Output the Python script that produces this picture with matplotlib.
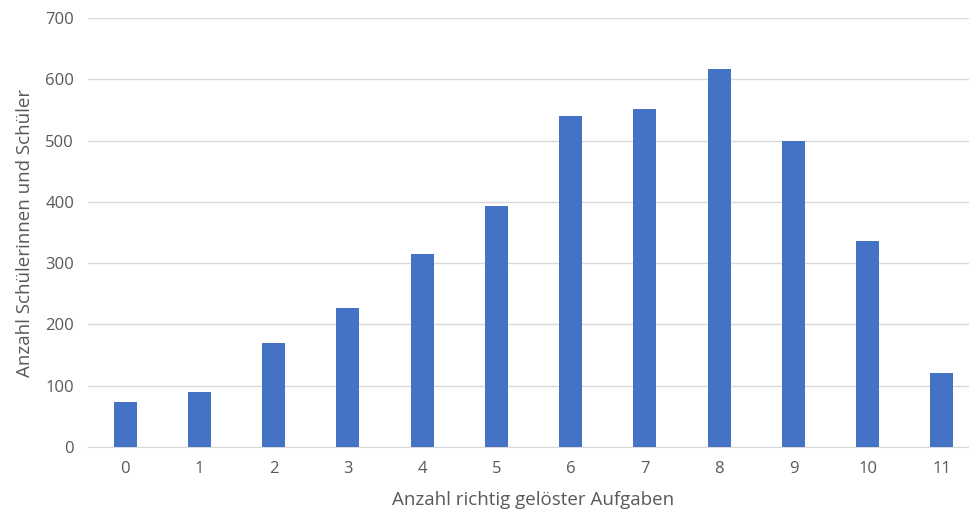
import numpy as np
import matplotlib
matplotlib.use('Agg')
import matplotlib.pyplot as plt

# Anzahl richtig geloester Aufgaben und Anzahl Schueler
aufgaben = ['0', '1', '2', '3', '4', '5', '6', '7', '8', '9', '10', '11']
anzahl = [74, 89, 170, 227, 315, 393, 540, 551, 617, 500, 336, 121]

plt.rcParams['font.family'] = ['Open Sans', 'DejaVu Sans']

fig = plt.figure(figsize=(9.7, 5.19), dpi=100)
# plot area runs slightly past the right edge, as in the original
ax = fig.add_axes([0.0907, 0.139, 0.9186, 0.826])

x = np.arange(len(aufgaben))
ax.bar(x, anzahl, width=0.31, color='#4472C4', zorder=3)

ax.set_xlim(-0.5, len(aufgaben) - 0.5)
ax.set_ylim(0, 700)
ax.set_yticks(np.arange(0, 701, 100))
ax.set_xticks(x)
ax.set_xticklabels(aufgaben)
ax.grid(axis='y', color='#d9d9d9', linewidth=1, zorder=0)

for s in ['top', 'right', 'left']:
    ax.spines[s].set_visible(False)
ax.spines['bottom'].set_color('#d9d9d9')
ax.tick_params(axis='both', length=0, labelsize=12, colors='#595959', pad=10)

ax.set_xlabel('Anzahl richtig gelöster Aufgaben', fontsize=13.5, color='#595959', labelpad=10)
ax.set_ylabel('Anzahl Schülerinnen und Schüler', fontsize=13.5, color='#595959', labelpad=8)

fig.savefig('out.png', dpi=100)
